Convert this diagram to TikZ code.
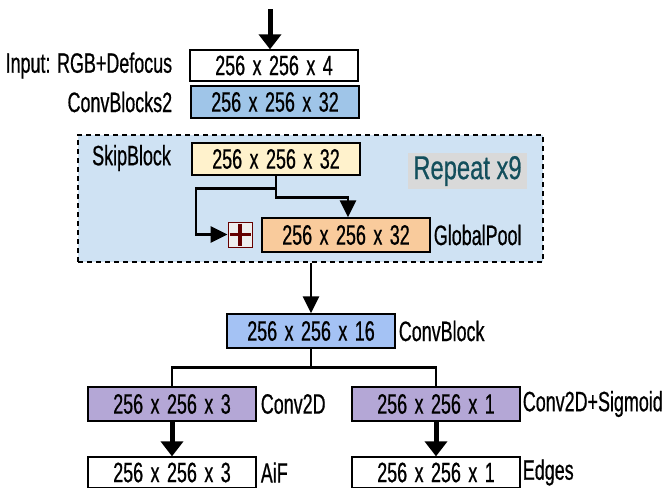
\documentclass[tikz,border=0pt]{standalone}
\usepackage{fontspec}
\setmainfont{Liberation Sans}[FakeStretch=0.64,FakeBold=0.6]
\newfontfamily\boxfont{Liberation Sans}[FakeStretch=0.64,FakeBold=0.6,WordSpace=1.5]
\newfontfamily\repfont{Liberation Sans}[FakeStretch=0.72,FakeBold=0.6]
\usetikzlibrary{arrows.meta}
\definecolor{cbtwo}{HTML}{9FC5E8}
\definecolor{skipc}{HTML}{FFF2CC}
\definecolor{poolc}{HTML}{F9CB9C}
\definecolor{convc}{HTML}{A4C2F4}
\definecolor{purpc}{HTML}{B4A7D6}
\definecolor{regc}{HTML}{CFE2F3}
\definecolor{rgray}{HTML}{D9D9D9}
\definecolor{rtext}{HTML}{134F5C}
\definecolor{addred}{HTML}{660000}
\definecolor{addfill}{HTML}{EFEFEF}
\begin{document}
\begin{tikzpicture}[x=1pt,y=-1pt,
  every node/.style={font=\fontsize{28}{30}\selectfont},
  blk/.style={draw=black,line width=1.3pt,minimum width=168pt,minimum height=33pt,inner sep=0pt,font=\boxfont\fontsize{28}{30}\selectfont},
  lbl/.style={inner sep=0pt},
  conn/.style={line width=2.8pt,black},
  arr/.style={conn,-{Triangle[width=16pt,length=17pt]}},
  bigarr/.style={line width=5pt,black,-{Triangle[width=22pt,length=15pt]}},
  region/.style={draw=black,dashed,dash pattern=on 5pt off 4pt,line width=1.3pt,fill=regc,minimum width=465pt,minimum height=127pt,inner sep=0pt}
]
\useasboundingbox (0,0) rectangle (666,487);
\fill[white] (0,0) rectangle (666,487);

% repeated region
\node[region] (rep) at (310.5,198.5) {};
\node[fill=rgray,text=rtext,inner sep=0pt,minimum width=119pt,minimum height=36pt,font=\repfont\fontsize{33}{36}\selectfont] (rx) at (467.5,171) {Repeat x9};

% boxes
\node[blk,fill=white,minimum height=31pt] (in) at (274,65.5) {256 x 256 x 4};
\node[blk,fill=cbtwo,minimum height=32pt] (cb2) at (275,102) {256 x 256 x 32};
\node[blk,fill=skipc,minimum height=32pt] (sb) at (276,159) {256 x 256 x 32};
\node[blk,fill=poolc,minimum height=34pt] (gp) at (346,235) {256 x 256 x 32};
\node[draw=addred,line width=1pt,fill=addfill,minimum width=24pt,minimum height=25pt,inner sep=0pt] (add) at (240,234.5) {};
\node[blk,fill=convc,minimum height=34pt] (cb) at (311,331) {256 x 256 x 16};
\node[blk,fill=purpc,minimum height=34pt] (c2d) at (172,404) {256 x 256 x 3};
\node[blk,fill=purpc,minimum height=34pt] (sig) at (436,404) {256 x 256 x 1};
\node[blk,fill=white,minimum height=31pt] (aif) at (172,472.5) {256 x 256 x 3};
\node[blk,fill=white,minimum height=31pt] (edg) at (436,472.5) {256 x 256 x 1};

% plus sign
\draw[addred,line width=3.5pt] ([xshift=2pt]add.west) -- ([xshift=-2pt]add.east);
\draw[addred,line width=3.5pt] ([yshift=-2pt]add.north) -- ([yshift=2pt]add.south);

% labels
\node[lbl,anchor=east] (lin) at ([xshift=-17pt]in.west) {Input: RGB+Defocus};
\node[lbl,anchor=east] (lcb2) at ([xshift=-18pt]cb2.west) {ConvBlocks2};
\node[lbl,anchor=west] (lsb) at (92,158) {SkipBlock};
\node[lbl,anchor=west] (lgp) at ([xshift=3pt]gp.east) {GlobalPool};
\node[lbl,anchor=west] (lcb) at ([xshift=3pt]cb.east) {ConvBlock};
\node[lbl,anchor=west] (lc2d) at ([xshift=4pt]c2d.east) {Conv2D};
\node[lbl,anchor=west] (lsig) at ([xshift=2pt]sig.east) {Conv2D+Sigmoid};
\node[lbl,anchor=west] (laif) at ([xshift=4pt]aif.east) {AiF};
\node[lbl,anchor=west] (ledg) at ([xshift=2pt]edg.east) {Edges};

% connectors
\coordinate (top) at ([xshift=-4pt,yshift=40pt]in.north);
\draw[bigarr] (top) -- (top |- in.north);

\coordinate (s1) at ([yshift=-13pt]sb.south);
\coordinate (s2) at ([yshift=-22pt]sb.south);
\coordinate (gpt) at ([xshift=2pt]gp.north);
\draw[arr] (sb.south) -- (s2) -| (gpt);
\coordinate (s3) at ([xshift=-80pt]s1);
\draw[arr] (s1) -- (s3) |- (add.west);

\coordinate (rb) at (rep.south -| cb.north);
\draw[arr] (rb) -- (cb.north);

\coordinate (sp) at ([yshift=-19pt]cb.south);
\draw[conn] (cb.south) -- (sp) -| (c2d.north);
\draw[conn] (sp) -| (sig.north);

\draw[bigarr] (c2d.south) -- (aif.north);
\draw[bigarr] (sig.south) -- (edg.north);
\end{tikzpicture}
\end{document}
